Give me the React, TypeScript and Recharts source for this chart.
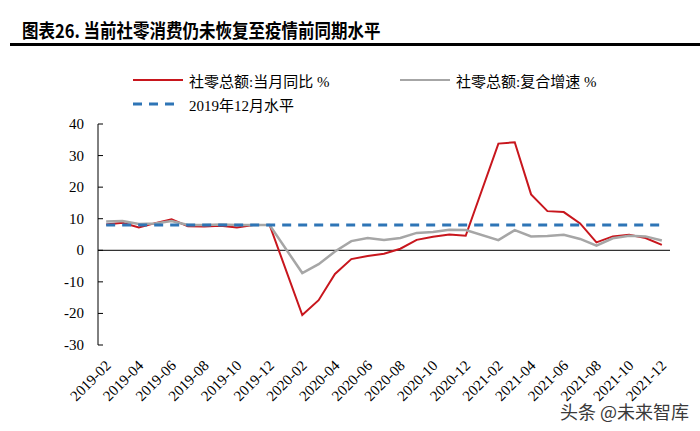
import React from "react";
import { LineChart, Line, XAxis, YAxis, ReferenceLine } from "recharts";

const months = [
  "2019-02", "2019-03", "2019-04", "2019-05", "2019-06", "2019-07", "2019-08", "2019-09",
  "2019-10", "2019-11", "2019-12", "2020-01", "2020-02", "2020-03", "2020-04", "2020-05",
  "2020-06", "2020-07", "2020-08", "2020-09", "2020-10", "2020-11", "2020-12", "2021-01",
  "2021-02", "2021-03", "2021-04", "2021-05", "2021-06", "2021-07", "2021-08", "2021-09",
  "2021-10", "2021-11", "2021-12",
];

// 社零总额:当月同比 %
const yoy = [
  8.2, 8.7, 7.2, 8.6, 9.8, 7.6, 7.5, 7.8, 7.2, 8.0, 8.0, null, -20.5, -15.8, -7.5, -2.8,
  -1.8, -1.1, 0.5, 3.3, 4.3, 5.0, 4.6, null, 33.8, 34.2, 17.7, 12.4, 12.1, 8.5, 2.5, 4.4,
  4.9, 3.9, 1.7,
];

// 社零总额:复合增速 %
const cagr = [
  9.1, 9.3, 8.3, 8.5, 9.3, 8.0, 8.0, 8.2, 8.0, 8.0, 8.0, null, -7.2, -4.4, -0.4, 2.9,
  3.9, 3.3, 3.9, 5.5, 5.8, 6.5, 6.4, null, 3.2, 6.4, 4.4, 4.5, 4.9, 3.6, 1.5, 3.8,
  4.6, 4.4, 3.1,
];

// 2019年12月水平
const level2019Dec = 8.0;

const yTicks = [-30, -20, -10, 0, 10, 20, 30, 40];

const data = months.map((m, i) => ({
  month: m,
  yoy: yoy[i],
  cagr: cagr[i],
  level: level2019Dec,
}));

const RED = "#C8161D";
const GRAY = "#A6A6A6";
const BLUE = "#2E75B6";
const SERIF = "'Liberation Serif', 'Times New Roman', 'Noto Sans CJK SC', serif";

function YTick(props: any) {
  const { x, y, payload } = props;
  const axisX = x + 14;
  return (
    <g>
      <line x1={axisX} x2={axisX + 5} y1={y} y2={y} stroke="#000" strokeWidth={1} />
      <text x={x} y={y} dy={5} textAnchor="end" fontFamily={SERIF} fontSize={15} fill="#000">
        {payload.value}
      </text>
    </g>
  );
}

function XTick(props: any) {
  const { x, y, payload } = props;
  const tx = x + 2;
  const ty = y + 10;
  return (
    <text
      x={tx}
      y={ty}
      dy={5}
      textAnchor="end"
      fontFamily={SERIF}
      fontSize={15}
      fill="#000"
      transform={`rotate(-45 ${tx} ${ty})`}
    >
      {payload.value}
    </text>
  );
}

function LegendBox() {
  const text = { fontFamily: SERIF, fontSize: 15, color: "#000", whiteSpace: "nowrap" as const };
  return (
    <div style={{ position: "absolute", left: 0, top: 69, width: 700, height: 50 }}>
      <svg width={700} height={50} style={{ position: "absolute", left: 0, top: 0 }}>
        <line x1={133} x2={183} y1={11} y2={11} stroke={RED} strokeWidth={2} />
        <line x1={400} x2={450} y1={11} y2={11} stroke={GRAY} strokeWidth={2} />
        <line x1={133} x2={177} y1={35} y2={35} stroke={BLUE} strokeWidth={3} strokeDasharray="9 7" />
      </svg>
      <div style={{ ...text, position: "absolute", left: 189, top: 1 }}>社零总额:当月同比 %</div>
      <div style={{ ...text, position: "absolute", left: 456, top: 1 }}>社零总额:复合增速 %</div>
      <div style={{ ...text, position: "absolute", left: 189, top: 25 }}>2019年12月水平</div>
    </div>
  );
}

export default function App() {
  return (
    <div style={{ position: "absolute", left: 0, top: 0, width: 700, height: 431, background: "#fff" }}>
      <div
        style={{
          position: "absolute",
          left: 22,
          top: 18,
          fontFamily: "'Noto Sans CJK SC', sans-serif",
          fontWeight: 700,
          fontSize: 16.5,
          lineHeight: "20px",
          color: "#000",
          whiteSpace: "nowrap",
          transform: "scale(1, 1.15)",
          transformOrigin: "left top",
        }}
      >
        图表26. 当前社零消费仍未恢复至疫情前同期水平
      </div>
      <div style={{ position: "absolute", left: 10, top: 43, width: 690, height: 3, background: "#000" }} />
      <LineChart
        width={700}
        height={431}
        data={data}
        margin={{ top: 124, right: 30, bottom: 26, left: 38 }}
      >
        <XAxis
          dataKey="month"
          scale="band"
          interval={1}
          axisLine={false}
          tickLine={false}
          tick={<XTick />}
          height={60}
        />
        <YAxis
          domain={[-30, 40]}
          ticks={yTicks}
          width={60}
          tickLine={false}
          tickSize={6}
          tickMargin={8}
          axisLine={{ stroke: "#000", strokeWidth: 1 }}
          tick={<YTick />}
          interval={0}
        />
        <ReferenceLine y={0} stroke="#333" strokeWidth={1.2} />
        <Line
          dataKey="yoy"
          stroke={RED}
          strokeWidth={2}
          dot={false}
          connectNulls
          isAnimationActive={false}
        />
        <Line
          dataKey="cagr"
          stroke={GRAY}
          strokeWidth={2.5}
          dot={false}
          connectNulls
          isAnimationActive={false}
        />
        <Line
          dataKey="level"
          stroke={BLUE}
          strokeWidth={3}
          strokeDasharray="9 7"
          dot={false}
          isAnimationActive={false}
        />
      </LineChart>
      <LegendBox />
      <div
        style={{
          position: "absolute",
          left: 560,
          top: 398,
          fontFamily: "'Noto Sans CJK SC', sans-serif",
          fontSize: 18,
          color: "#3a3a3a",
          whiteSpace: "nowrap",
          textShadow: "0 0 2px #fff",
        }}
      >
        头条 @未来智库
      </div>
    </div>
  );
}
